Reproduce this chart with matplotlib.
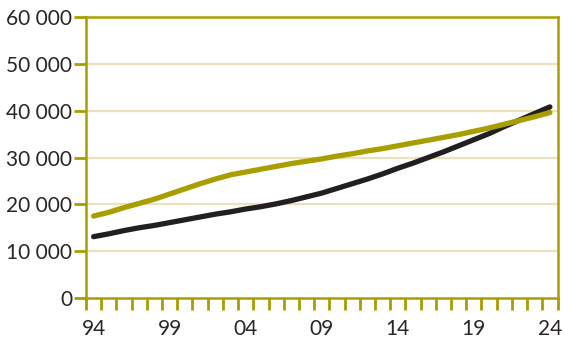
import numpy as np
import matplotlib
matplotlib.use("Agg")
import matplotlib.pyplot as plt

# ── data ───────────────────────────────────────────────────────────────────────
years = list(range(1994, 2025))
olive_vals = [17500, 18300, 19300, 20200, 21100, 22200, 23300, 24400, 25400, 26300,
              26900, 27500, 28100, 28700, 29200, 29700, 30300, 30800, 31400, 31900,
              32500, 33100, 33700, 34300, 34900, 35600, 36300, 37100, 37900, 38700,
              39600]
black_vals = [13100, 13700, 14400, 15000, 15500, 16100, 16700, 17300, 17900, 18400,
              19000, 19500, 20100, 20800, 21600, 22400, 23400, 24400, 25400, 26500,
              27700, 28800, 30000, 31200, 32500, 33800, 35100, 36600, 38000, 39400,
              40800]
label_years = [1994, 1999, 2004, 2009, 2014, 2019, 2024]
x_labels = ["94", "99", "04", "09", "14", "19", "24"]
y_ticks = [0, 10000, 20000, 30000, 40000, 50000, 60000]
y_labels = ["0", "10 000", "20 000", "30 000", "40 000", "50 000", "60 000"]

OLIVE = "#a89e00"
GRID  = "#e9e2bc"
BLACK = "#231f20"
TEXT  = "#2a2627"

plt.rcParams["font.family"] = ["Lato", "DejaVu Sans"]

fig = plt.figure(figsize=(5.64, 3.40), dpi=100)
ax = fig.add_axes([86 / 564, 1 - 298 / 340, (557.5 - 86) / 564, (298 - 17) / 340])

for y in y_ticks[1:-1]:
    ax.axhline(y, color=GRID, linewidth=1.6, zorder=1)

ax.plot(years, black_vals, color=BLACK, linewidth=3.8, solid_capstyle="round", zorder=3)
ax.plot(years, olive_vals, color=OLIVE, linewidth=3.8, solid_capstyle="round", zorder=4)

ax.set_xlim(1993.5, 2024.5)
ax.set_ylim(0, 60000)

# year boundaries as tick marks, labels centred on the years
ax.set_xticks(np.arange(1993.5, 2025, 1.0))
ax.set_xticklabels([])
ax.set_xticks(label_years, minor=True)
ax.set_xticklabels(x_labels, minor=True)
ax.tick_params(axis="x", which="major", direction="out", length=8.5, width=2.0,
               color=OLIVE)
ax.tick_params(axis="x", which="minor", length=0, pad=15, labelsize=15,
               labelcolor=TEXT)

ax.set_yticks(y_ticks)
ax.set_yticklabels(y_labels)
ax.tick_params(axis="y", direction="out", length=8.5, width=2.0, color=OLIVE,
               pad=1.5, labelsize=15, labelcolor=TEXT)

for s in ["left", "right", "top", "bottom"]:
    ax.spines[s].set_color(OLIVE)
    ax.spines[s].set_linewidth(1.8)

fig.savefig("out.png", dpi=100)
